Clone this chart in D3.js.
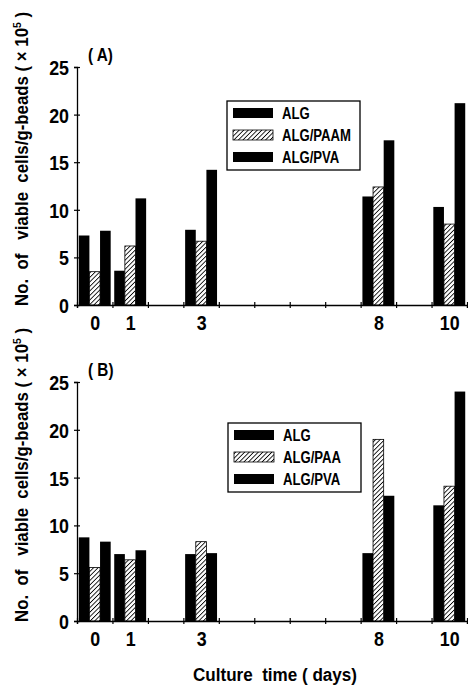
<!DOCTYPE html>
<html>
<head>
<meta charset="utf-8">
<script src="https://cdn.jsdelivr.net/npm/d3@7"></script>
<style>
  html, body { margin: 0; padding: 0; background: #fff; }
  svg text { font-family: "Liberation Sans", Arial, sans-serif; font-weight: bold; fill: #000; }
</style>
</head>
<body>
<div id="chart"></div>
<script>
// culture days
var days = [0, 1, 3, 8, 10];
var yTicks = [0, 5, 10, 15, 20, 25];

// panel A
var algA  = [7.3, 3.6, 7.9, 11.4, 10.3];
var paamA = [3.5, 6.2, 6.7, 12.4, 8.5];
var pvaA  = [7.8, 11.2, 14.2, 17.3, 21.2];
var legendA = ["ALG", "ALG/PAAM", "ALG/PVA"];

// panel B
var algB = [8.75, 7.0, 7.0, 7.1, 12.1];
var paaB = [5.6, 6.4, 8.3, 19.0, 14.1];
var pvaB = [8.3, 7.4, 7.1, 13.1, 24.0];
var legendB = ["ALG", "ALG/PAA", "ALG/PVA"];

var W = 468, H = 687;
var svg = d3.select("#chart").append("svg")
    .attr("width", W).attr("height", H);

// squeeze text horizontally (no condensed font available)
function condense(sel, f) {
  sel.each(function() {
    var len = this.getComputedTextLength();
    d3.select(this).attr("textLength", len * f).attr("lengthAdjust", "spacingAndGlyphs");
  });
}

// hatch pattern for middle series
var defs = svg.append("defs");
var pat = defs.append("pattern")
    .attr("id", "hatch")
    .attr("patternUnits", "userSpaceOnUse")
    .attr("width", 3.2).attr("height", 3.2)
    .attr("patternTransform", "rotate(45)");
pat.append("rect").attr("width", 3.2).attr("height", 3.2).attr("fill", "#fff");
pat.append("line")
    .attr("x1", 0).attr("y1", 0).attr("x2", 0).attr("y2", 3.2)
    .attr("stroke", "#000").attr("stroke-width", 1.7);

var x = d3.scaleLinear().domain([-0.5, 10.5]).range([77, 467]);
var dayW = x(1) - x(0);
var barW = dayW * 0.3;

function drawPanel(top, bottom, series, labels, tag, legendPos) {
  var y = d3.scaleLinear().domain([0, 25]).range([bottom, top]);
  var g = svg.append("g");
  var fills = ["#000", "url(#hatch)", "#000"];

  // bars
  series.forEach(function(vals, s) {
    g.selectAll(null)
      .data(vals)
      .enter().append("rect")
        .attr("x", function(d, i) { return x(days[i]) - 1.5 * barW + s * barW; })
        .attr("y", function(d) { return y(d); })
        .attr("width", barW)
        .attr("height", function(d) { return y(0) - y(d); })
        .attr("fill", fills[s])
        .attr("stroke", "#000")
        .attr("stroke-width", s == 1 ? 0.8 : 0);
  });

  // y axis
  var yAx = g.append("g")
      .attr("transform", "translate(" + x(-0.5) + ",0)")
      .call(d3.axisLeft(y).tickValues(yTicks).tickSize(3).tickFormat(d3.format("d")));
  yAx.select(".domain").attr("stroke-width", 1.3);
  yAx.selectAll(".tick line").attr("x2", 3).attr("x1", -3).attr("stroke-width", 1.2);
  yAx.selectAll("text").attr("x", -8).attr("dy", "0.36em").style("font-size", "21px").style("font-family", null);
  condense(yAx.selectAll("text"), 0.85);

  // x axis, ticks between days
  var tv = d3.range(-0.5, 10.6, 1);
  var xAx = g.append("g")
      .attr("transform", "translate(0," + y(0) + ")")
      .call(d3.axisBottom(x).tickValues(tv).tickSize(3).tickFormat(""));
  xAx.select(".domain").attr("stroke-width", 1.3);
  xAx.selectAll(".tick line").attr("y1", -3).attr("y2", 3).attr("stroke-width", 1.2);

  var xLab = g.append("g")
      .attr("transform", "translate(0," + y(0) + ")")
      .call(d3.axisBottom(x).tickValues(days).tickSize(0).tickFormat(d3.format("d")));
  xLab.select(".domain").remove();
  xLab.selectAll("text").attr("dy", "0").attr("y", 25).style("font-size", "21px").style("font-family", null);
  condense(xLab.selectAll("text"), 0.85);
  yAx.attr("font-family", null);
  xLab.attr("font-family", null);

  // panel tag
  var t = g.append("text")
    .attr("x", 88).attr("y", top - 6)
    .style("font-size", "18px")
    .style("white-space", "pre")
    .text("( " + tag + ")");
  condense(t, 0.85);

  // y label
  var yl = g.append("text")
    .attr("transform", "translate(28," + (bottom + 1) + ") rotate(-90)")
    .style("font-size", "18px")
    .style("white-space", "pre")
    .attr("textLength", 294)
    .attr("lengthAdjust", "spacingAndGlyphs")
    .html("No.  of   viable  cells/g-beads ( × 10<tspan dy='-7' font-size='11px'>5</tspan><tspan dy='7'> )</tspan>");

  // legend
  var lg = g.append("g").attr("transform", "translate(" + legendPos[0] + "," + legendPos[1] + ")");
  lg.append("rect")
    .attr("width", 133).attr("height", 69)
    .attr("fill", "#fff").attr("stroke", "#000").attr("stroke-width", 1.3);
  labels.forEach(function(l, i) {
    var ry = 12 + i * 22;
    lg.append("rect")
      .attr("x", 6).attr("y", ry - 5).attr("width", 40).attr("height", 10)
      .attr("fill", fills[i]).attr("stroke", "#000").attr("stroke-width", i == 1 ? 0.8 : 0);
    var lt = lg.append("text")
      .attr("x", 55).attr("y", ry + 6)
      .style("font-size", "16px")
      .text(l);
    condense(lt, 0.82);
  });
}

drawPanel(67, 305, [algA, paamA, pvaA], legendA, "A", [227, 101]);
drawPanel(382, 621, [algB, paaB, pvaB], legendB, "B", [228, 423]);

// x axis title
svg.append("text")
  .attr("x", 193).attr("y", 681)
  .style("font-size", "18px")
  .style("white-space", "pre")
  .attr("textLength", 164)
  .attr("lengthAdjust", "spacingAndGlyphs")
  .text("Culture  time ( days)");
</script>
</body>
</html>
